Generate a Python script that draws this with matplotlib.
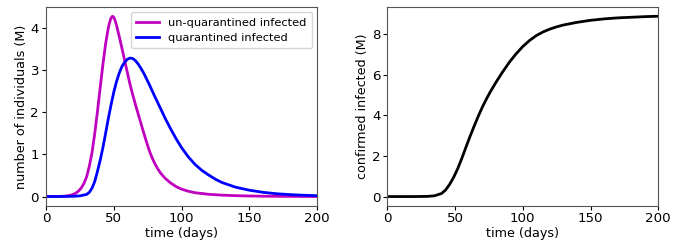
import matplotlib
matplotlib.use("Agg")
import matplotlib.pyplot as plt

# un-quarantined infected (M)
t_uq = [0, 10, 15, 18, 20, 22, 24, 26, 28, 30, 32, 34, 36, 38, 40, 42, 44, 46, 47,
        48, 49, 50, 51, 52, 54, 56, 58, 60, 62, 64, 66, 68, 70, 72, 74, 76, 78, 80,
        82, 84, 86, 88, 92, 96, 100, 105, 110, 120, 130, 140, 150, 160, 180, 200]
v_uq = [0.0, 0.003, 0.012, 0.03, 0.05, 0.08, 0.13, 0.2, 0.31, 0.47, 0.72, 1.05,
        1.5, 2.02, 2.58, 3.13, 3.62, 4.0, 4.13, 4.23, 4.27, 4.25, 4.17, 4.06, 3.8,
        3.52, 3.23, 2.94, 2.66, 2.41, 2.18, 1.96, 1.74, 1.52, 1.31, 1.11, 0.94,
        0.8, 0.68, 0.58, 0.5, 0.43, 0.32, 0.235, 0.175, 0.125, 0.09, 0.052, 0.032,
        0.02, 0.012, 0.007, 0.003, 0.001]

# quarantined infected (M)
t_q = [0, 10, 20, 25, 30, 32, 34, 36, 38, 40, 42, 44, 46, 48, 50, 52, 54, 56, 58,
       60, 62, 64, 66, 68, 70, 72, 74, 76, 78, 80, 84, 88, 92, 96, 100, 105, 110,
       115, 120, 125, 130, 140, 150, 160, 170, 180, 190, 200]
v_q = [0.0, 0.001, 0.005, 0.015, 0.05, 0.1, 0.2, 0.36, 0.6, 0.86, 1.16, 1.5, 1.85,
       2.17, 2.47, 2.72, 2.92, 3.08, 3.18, 3.25, 3.28, 3.27, 3.22, 3.14, 3.04,
       2.93, 2.8, 2.67, 2.53, 2.39, 2.12, 1.85, 1.6, 1.37, 1.16, 0.94, 0.76, 0.62,
       0.51, 0.41, 0.33, 0.22, 0.15, 0.1, 0.066, 0.045, 0.03, 0.02]

# confirmed infected (M)
t_c = [0, 20, 30, 35, 40, 43, 46, 49, 52, 55, 58, 61, 64, 67, 70, 73, 76, 80, 85,
       90, 95, 100, 105, 110, 115, 120, 125, 130, 140, 150, 160, 170, 180, 190, 200]
v_c = [0.0, 0.0, 0.01, 0.04, 0.15, 0.32, 0.6, 0.95, 1.38, 1.88, 2.42, 2.95, 3.45,
       3.93, 4.38, 4.78, 5.15, 5.6, 6.12, 6.6, 7.02, 7.38, 7.68, 7.92, 8.1, 8.24,
       8.35, 8.44, 8.57, 8.67, 8.74, 8.79, 8.82, 8.85, 8.87]

fig = plt.figure(figsize=(6.94, 2.44), dpi=100)
ax1 = fig.add_axes([46/694, 1-205.5/244, (317-46)/694, (205.5-7.3)/244])
ax2 = fig.add_axes([387.3/694, 1-205.5/244, (658.3-387.3)/694, (205.5-7.3)/244])

ax1.plot(t_uq, v_uq, color='m', lw=2.0, label='un-quarantined infected')
ax1.plot(t_q, v_q, color='b', lw=2.0, label='quarantined infected')
ax1.set_xlim(0, 200)
ax1.set_ylim(-0.213, 4.483)
ax1.set_xticks([0, 50, 100, 150, 200])
ax1.set_yticks([0, 1, 2, 3, 4])
ax1.set_xlabel('time (days)', fontsize=9.2, labelpad=1)
ax1.set_ylabel('number of individuals (M)', fontsize=9.2, labelpad=2)
ax1.tick_params(labelsize=9.6, length=3, pad=2)
ax1.legend(loc='upper right', fontsize=8.2, handlelength=2.0, borderpad=0.5,
           labelspacing=0.45, borderaxespad=0.4)

ax2.plot(t_c, v_c, color='k', lw=2.0)
ax2.set_xlim(0, 200)
ax2.set_ylim(-0.44, 9.31)
ax2.set_xticks([0, 50, 100, 150, 200])
ax2.set_yticks([0, 2, 4, 6, 8])
ax2.set_xlabel('time (days)', fontsize=9.2, labelpad=1)
ax2.set_ylabel('confirmed infected (M)', fontsize=9.2, labelpad=2)
ax2.tick_params(labelsize=9.6, length=3, pad=2)

for ax in (ax1, ax2):
    for s in ax.spines.values():
        s.set_color('#555555')
        s.set_linewidth(0.8)

fig.savefig('out.png', dpi=100)
